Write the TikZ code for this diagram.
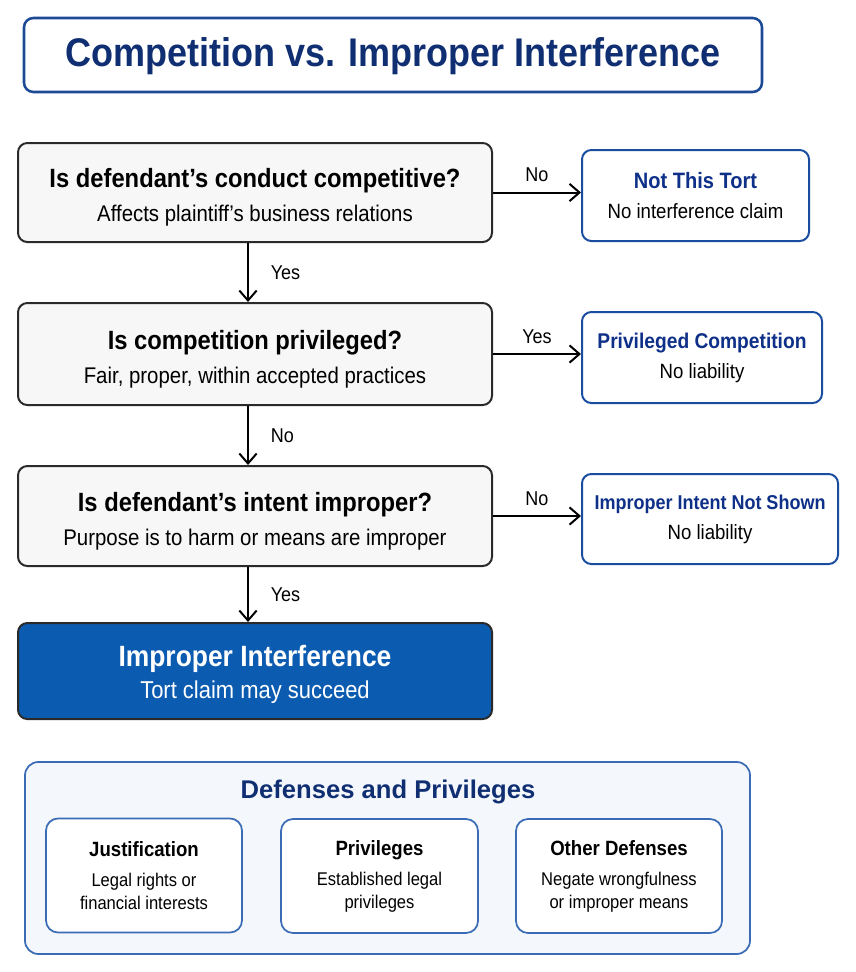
\documentclass[tikz,border=0pt]{standalone}
\usepackage{fontspec}
\setmainfont{Liberation Sans}[FakeStretch=0.9]
\newfontfamily\widesans{Liberation Sans}
\usetikzlibrary{arrows.meta}

\definecolor{navy}{HTML}{102F73}
\definecolor{framblue}{HTML}{1C4A96}
\definecolor{boxgray}{HTML}{2A2A2A}
\definecolor{boxfill}{HTML}{F7F7F7}
\definecolor{tortblue}{HTML}{1A4CA0}
\definecolor{tortnavy}{HTML}{0E3088}
\definecolor{resfill}{HTML}{0B5BB1}
\definecolor{panelfill}{HTML}{F4F8FD}
\definecolor{panelline}{HTML}{3A6BB5}

\begin{document}
\begin{tikzpicture}[x=0.75pt,y=-0.75pt,
    question/.style={draw=boxgray, fill=boxfill, line width=1.5pt, rounded corners=7pt,
        minimum width=355.5pt, align=center, inner sep=0pt,
        font=\fontsize{17}{25.5}\selectfont},
    outcome/.style={draw=tortblue, fill=white, line width=1.5pt, rounded corners=7pt,
        align=center, inner sep=0pt, font=\fontsize{15.5}{22.5}\selectfont},
    defbox/.style={draw=panelline, fill=white, line width=1.3pt, rounded corners=9pt,
        minimum height=85.5pt, align=center, inner sep=0pt,
        font=\fontsize{13.8}{17.25}\selectfont},
    flow/.style={line width=1.5pt, -{Straight Barb[length=7.5pt,width=13pt,line width=1.5pt]}},
    answer/.style={font=\fontsize{15}{18}\selectfont}]
\useasboundingbox (0,0) rectangle (856,972);

% heading
\node[draw=framblue, fill=white, line width=1.9pt, rounded corners=7pt,
    minimum width=553.5pt, minimum height=55.5pt, text=navy,
    font=\fontsize{30}{34}\selectfont\bfseries] (head) at (393,55)
    {\rule{0pt}{24pt}Competition vs. Improper Interference};

% the three questions
\node[question, minimum height=74.25pt] (q1) at (255,192.5)
    {{\fontsize{19.8}{25.5}\selectfont\bfseries\rule{0pt}{22pt}Is defendant's conduct competitive?}\\
     Affects plaintiff's business relations};
\node[question, minimum height=76.5pt] (q2) at (255,354)
    {{\fontsize{19.8}{25.5}\selectfont\bfseries\rule{0pt}{22pt}Is competition privileged?}\\
     Fair, proper, within accepted practices};
\node[question, minimum height=75pt] (q3) at (255,516)
    {{\fontsize{19.8}{25.5}\selectfont\bfseries\rule{0pt}{22pt}Is defendant's intent improper?}\\
     Purpose is to harm or means are improper};
\node[question, minimum height=72pt, fill=resfill, text=white,
    font=\fontsize{18.3}{24.5}\selectfont] (res) at (255,671)
    {{\fontsize{22}{24.5}\selectfont\bfseries\rule{0pt}{21pt}Improper Interference}\\
     Tort claim may succeed};

% outcomes on the right
\node[outcome, minimum width=170.25pt, minimum height=68.25pt] (r1) at (695.5,195.5)
    {{\fontsize{16.7}{22.5}\selectfont\bfseries\color{tortnavy}Not This Tort}\\
     No interference claim};
\node[outcome, minimum width=180pt, minimum height=68.25pt] (r2) at (702,357.5)
    {{\fontsize{16}{22.5}\selectfont\bfseries\color{tortnavy}Privileged Competition}\\
     No liability};
\node[outcome, minimum width=192pt, minimum height=67.5pt] (r3) at (710,519)
    {{\fontsize{15}{22.5}\selectfont\bfseries\color{tortnavy}Improper Intent Not Shown}\\
     No liability};

% arrows
\coordinate (spine) at (248,0);
\draw[flow] (q1.east) -- (q1.east -| r1.west) node[answer, midway, above=4pt] {No};
\draw[flow] (q2.east) -- (q2.east -| r2.west) node[answer, midway, above=4pt] {Yes};
\draw[flow] (q3.east) -- (q3.east -| r3.west) node[answer, midway, above=4pt] {No};
\draw[flow] (q1.south -| spine) -- (q2.north -| spine) node[answer, midway, right=13pt] {Yes};
\draw[flow] (q2.south -| spine) -- (q3.north -| spine) node[answer, midway, right=13pt] {No};
\draw[flow] (q3.south -| spine) -- (res.north -| spine) node[answer, midway, right=13pt] {Yes};

% defenses panel
\node[draw=panelline, fill=panelfill, line width=1.3pt, rounded corners=10pt,
    minimum width=543.75pt, minimum height=144pt] (panel) at (387.5,858) {};
\node[text=navy, font=\widesans\fontsize{19.2}{22}\selectfont\bfseries] (ptitle)
    at (388,792) {Defenses and Privileges};
\node[defbox, minimum width=147pt] (d1) at (144,875.5)
    {{\fontsize{15.5}{17.25}\selectfont\bfseries Justification}\\[5.25pt]
     Legal rights or\\financial interests};
\node[defbox, minimum width=147.75pt] (d2) at (379.5,876)
    {{\fontsize{15.5}{17.25}\selectfont\bfseries Privileges}\\[5.25pt]
     Established legal\\privileges};
\node[defbox, minimum width=154.5pt] (d3) at (619,876)
    {{\fontsize{15.5}{17.25}\selectfont\bfseries Other Defenses}\\[5.25pt]
     Negate wrongfulness\\or improper means};
\end{tikzpicture}
\end{document}
